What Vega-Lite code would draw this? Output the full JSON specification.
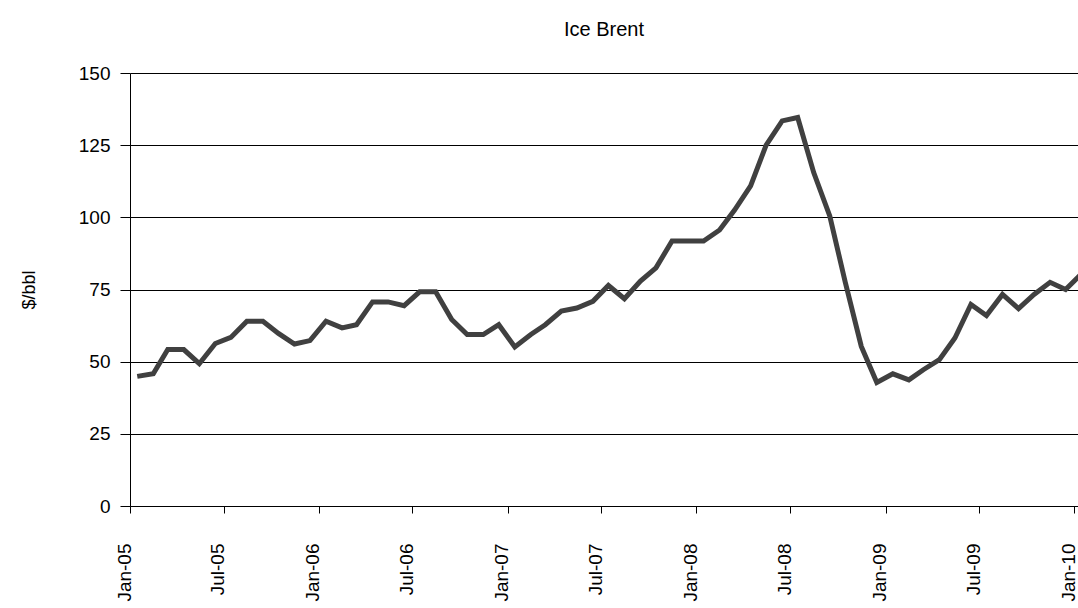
{
  "$schema": "https://vega.github.io/schema/vega-lite/v6.json",
  "autosize": "none",
  "width": 948,
  "height": 433,
  "padding": {"left": 130, "top": 73, "right": 0, "bottom": 102},
  "background": "white",
  "title": {"text": "Ice Brent", "font": "Liberation Sans", "fontSize": 20, "fontWeight": "normal", "color": "#000000", "offset": 24, "anchor": "middle"},
  "data": {"values": [
    {"date": "2005-01-15", "price": 44.9}, {"date": "2005-02-15", "price": 45.8}, {"date": "2005-03-15", "price": 54.2}, {"date": "2005-04-15", "price": 54.2},
    {"date": "2005-05-15", "price": 49.3}, {"date": "2005-06-15", "price": 56.3}, {"date": "2005-07-15", "price": 58.4}, {"date": "2005-08-15", "price": 64.0},
    {"date": "2005-09-15", "price": 64.0}, {"date": "2005-10-15", "price": 59.8}, {"date": "2005-11-15", "price": 56.1}, {"date": "2005-12-15", "price": 57.3},
    {"date": "2006-01-15", "price": 64.0}, {"date": "2006-02-15", "price": 61.7}, {"date": "2006-03-15", "price": 62.8}, {"date": "2006-04-15", "price": 70.7},
    {"date": "2006-05-15", "price": 70.7}, {"date": "2006-06-15", "price": 69.4}, {"date": "2006-07-15", "price": 74.2}, {"date": "2006-08-15", "price": 74.2},
    {"date": "2006-09-15", "price": 64.6}, {"date": "2006-10-15", "price": 59.4}, {"date": "2006-11-15", "price": 59.4}, {"date": "2006-12-15", "price": 62.8},
    {"date": "2007-01-15", "price": 55.1}, {"date": "2007-02-15", "price": 59.4}, {"date": "2007-03-15", "price": 62.8}, {"date": "2007-04-15", "price": 67.5},
    {"date": "2007-05-15", "price": 68.6}, {"date": "2007-06-15", "price": 70.9}, {"date": "2007-07-15", "price": 76.4}, {"date": "2007-08-15", "price": 71.8},
    {"date": "2007-09-15", "price": 77.9}, {"date": "2007-10-15", "price": 82.5}, {"date": "2007-11-15", "price": 91.8}, {"date": "2007-12-15", "price": 91.8},
    {"date": "2008-01-15", "price": 91.8}, {"date": "2008-02-15", "price": 95.6}, {"date": "2008-03-15", "price": 102.5}, {"date": "2008-04-15", "price": 110.9},
    {"date": "2008-05-15", "price": 125.0}, {"date": "2008-06-15", "price": 133.4}, {"date": "2008-07-15", "price": 134.6}, {"date": "2008-08-15", "price": 115.5},
    {"date": "2008-09-15", "price": 100.5}, {"date": "2008-10-15", "price": 77.5}, {"date": "2008-11-15", "price": 55.3}, {"date": "2008-12-15", "price": 42.8},
    {"date": "2009-01-15", "price": 45.8}, {"date": "2009-02-15", "price": 43.7}, {"date": "2009-03-15", "price": 47.2}, {"date": "2009-04-15", "price": 50.7},
    {"date": "2009-05-15", "price": 58.2}, {"date": "2009-06-15", "price": 69.8}, {"date": "2009-07-15", "price": 66.0}, {"date": "2009-08-15", "price": 73.3},
    {"date": "2009-09-15", "price": 68.4}, {"date": "2009-10-15", "price": 73.3}, {"date": "2009-11-15", "price": 77.5}, {"date": "2009-12-15", "price": 75.0},
    {"date": "2010-01-15", "price": 80.5}
  ]},
  "mark": {"type": "line", "color": "#404040", "strokeWidth": 5, "clip": true},
  "encoding": {
    "x": {
      "field": "date", "type": "temporal",
      "scale": {"type": "utc", "domain": ["2005-01-01", "2010-01-08"], "nice": false},
      "axis": {
        "title": null,
        "grid": false,
        "tickCount": {"interval": "month", "step": 6},
        "labelExpr": "utcFormat(datum.value, '%b-%y')",
        "labelAngle": -90,
        "labelBaseline": "alphabetic",
        "labelPadding": 30,
        "labelFont": "Liberation Sans",
        "labelFontSize": 19,
        "labelColor": "#000000",
        "tickSize": 7,
        "tickColor": "#000000",
        "domainColor": "#000000",
        "labelOverlap": false,
        "labelBound": false,
        "labelFlush": false
      }
    },
    "y": {
      "field": "price", "type": "quantitative",
      "scale": {"domain": [0, 150], "nice": false, "zero": true},
      "axis": {
        "title": "$/bbl",
        "titleFont": "Liberation Sans",
        "titleFontSize": 18,
        "titleFontWeight": "normal",
        "titleColor": "#000000",
        "titlePadding": 40,
        "values": [0, 25, 50, 75, 100, 125, 150],
        "labelFont": "Liberation Sans",
        "labelFontSize": 19,
        "labelColor": "#000000",
        "labelPadding": 10,
        "tickSize": 10,
        "tickColor": "#000000",
        "domainColor": "#000000",
        "grid": true,
        "gridColor": "#000000",
        "gridOpacity": 1,
        "labelOverlap": false
      }
    }
  },
  "config": {"view": {"stroke": null}}
}
